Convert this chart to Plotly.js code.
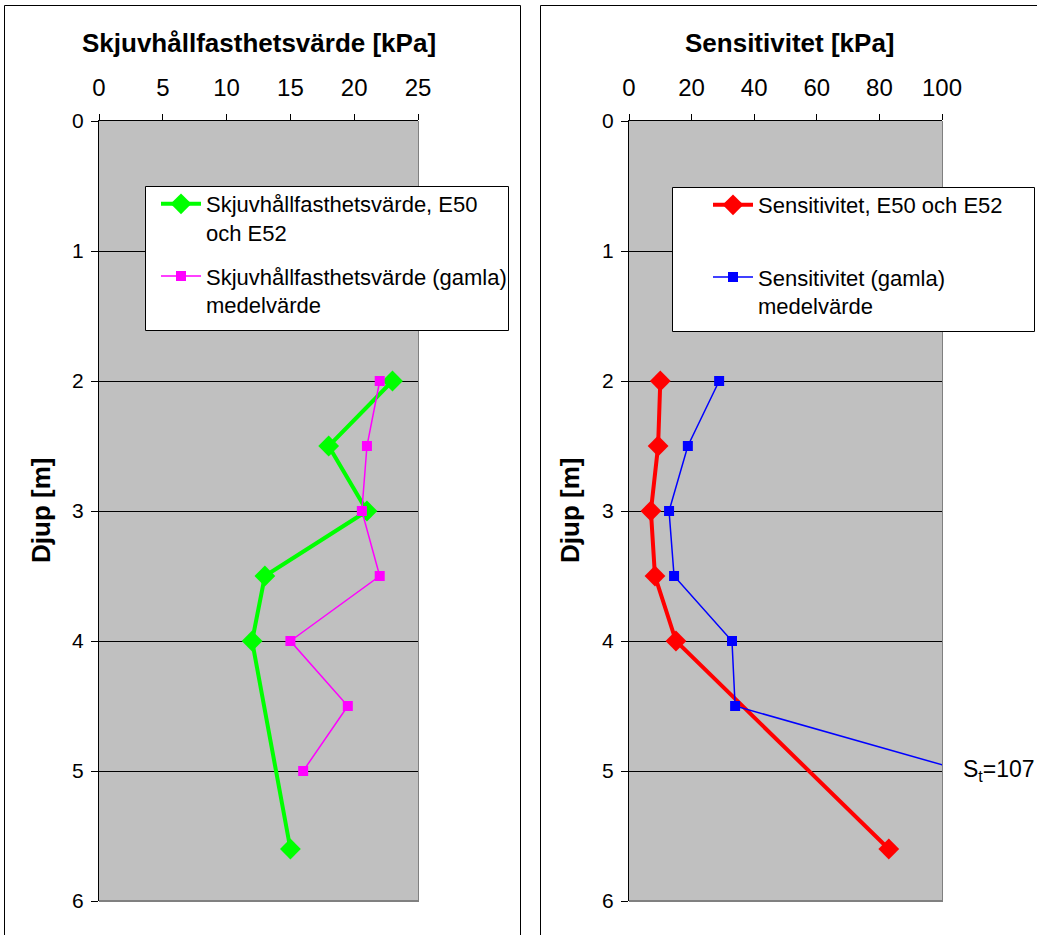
<!DOCTYPE html>
<html>
<head>
<meta charset="utf-8">
<script src="https://cdn.plot.ly/plotly-3.0.1.min.js"></script>
<style>html,body{margin:0;padding:0;background:#fff;}#chart{width:1037px;height:935px;}</style>
</head>
<body>
<div id="chart"></div>
<script>
// Depth values [m]
const depthNew = [2, 2.5, 3, 3.5, 4, 5.6];
const depthOld = [2, 2.5, 3, 3.5, 4, 4.5, 5];
// Skjuvhållfasthetsvärde [kPa]
const shearNew = [23, 18, 21, 13, 12, 15];
const shearOld = [22, 21, 20.6, 22, 15, 19.5, 16];
// Sensitivitet
const sensNew = [10, 9.3, 7, 8.3, 15, 83];
const sensOld = [28.8, 18.8, 12.8, 14.4, 32.9, 33.9, 107];

const leftTicks = [0, 5, 10, 15, 20, 25];
const rightTicks = [0, 20, 40, 60, 80, 100];
const depthTicks = [0, 1, 2, 3, 4, 5, 6];

const W = 1037, H = 935;
const px = x => x / W;
const py = y => 1 - y / H;
const FONT = 'Liberation Sans, Arial, sans-serif';

const traces = [
  {x: shearNew, y: depthNew, xaxis: 'x', yaxis: 'y', mode: 'lines+markers',
   name: 'Skjuvhållfasthetsvärde, E50<br>och E52', legend: 'legend', legendgroup: 'a',
   line: {color: '#00FF00', width: 4}, marker: {symbol: 'diamond', size: 16, color: '#00FF00'}},
  {x: shearOld, y: depthOld, xaxis: 'x', yaxis: 'y', mode: 'lines+markers',
   name: 'Skjuvhållfasthetsvärde (gamla)<br>medelvärde', legend: 'legend', legendgroup: 'b',
   line: {color: '#FF00FF', width: 1.5}, marker: {symbol: 'square', size: 10, color: '#FF00FF'}},
  {x: sensNew, y: depthNew, xaxis: 'x2', yaxis: 'y2', mode: 'lines+markers',
   name: 'Sensitivitet, E50 och E52<br> ', legend: 'legend2', legendgroup: 'c',
   line: {color: '#FF0000', width: 4}, marker: {symbol: 'diamond', size: 16, color: '#FF0000'}},
  {x: sensOld, y: depthOld, xaxis: 'x2', yaxis: 'y2', mode: 'lines+markers',
   name: 'Sensitivitet (gamla)<br>medelvärde', legend: 'legend2', legendgroup: 'd',
   line: {color: '#0000FF', width: 1.5}, marker: {symbol: 'square', size: 10, color: '#0000FF'}}
];

function xax(domain, range, ticks, anchor) {
  return {domain: domain, range: range, tickvals: ticks, side: 'top', anchor: anchor,
    ticks: 'outside', ticklen: 6, tickcolor: '#000', showline: true, linecolor: '#000', linewidth: 1,
    showgrid: false, zeroline: false, tickfont: {family: FONT, size: 24, color: '#000'},
    ticklabelstandoff: 8, fixedrange: true};
}
function yax(domain, anchor) {
  return {domain: domain, range: [6, 0], tickvals: depthTicks, anchor: anchor,
    ticks: 'outside', ticklen: 7, tickcolor: '#000', showline: true, linecolor: '#000', linewidth: 1,
    showgrid: true, gridcolor: '#000', gridwidth: 1, zeroline: false,
    tickfont: {family: FONT, size: 21, color: '#000'}, ticklabelstandoff: 3, fixedrange: true};
}

const yDom = [py(901), py(121)];
const legendBase = {xanchor: 'left', yanchor: 'top', bgcolor: 'rgba(0,0,0,0)',
  borderwidth: 0, font: {family: FONT, size: 22, color: '#000'},
  valign: 'top', tracegroupgap: 12, itemwidth: 40};
const layout = {
  width: W, height: H, margin: {l: 0, r: 0, t: 0, b: 0},
  paper_bgcolor: '#fff', plot_bgcolor: '#C0C0C0',
  xaxis: xax([px(99), px(418)], [0, 25], leftTicks, 'y'),
  yaxis: yax(yDom, 'x'),
  xaxis2: xax([px(629), px(942)], [0, 100], rightTicks, 'y2'),
  yaxis2: yax(yDom, 'x2'),
  showlegend: true,
  legend: Object.assign({}, legendBase, {x: px(156), y: py(183)}),
  legend2: Object.assign({}, legendBase, {x: px(708), y: py(184)}),
  annotations: [
    {text: '<b>Skjuvhållfasthetsvärde [kPa]</b>', xref: 'paper', yref: 'paper', x: px(259), y: py(43),
     xanchor: 'center', yanchor: 'middle', showarrow: false, font: {family: FONT, size: 26, color: '#000'}},
    {text: '<b>Sensitivitet [kPa]</b>', xref: 'paper', yref: 'paper', x: px(790), y: py(43),
     xanchor: 'center', yanchor: 'middle', showarrow: false, font: {family: FONT, size: 26, color: '#000'}},
    {text: '<b>Djup [m]</b>', xref: 'paper', yref: 'paper', x: px(41), y: py(511), textangle: -90,
     xanchor: 'center', yanchor: 'middle', showarrow: false, font: {family: FONT, size: 26, color: '#000'}},
    {text: '<b>Djup [m]</b>', xref: 'paper', yref: 'paper', x: px(570), y: py(511), textangle: -90,
     xanchor: 'center', yanchor: 'middle', showarrow: false, font: {family: FONT, size: 26, color: '#000'}},
    {text: 'S<sub>t</sub>=107', xref: 'paper', yref: 'paper', x: px(961), y: py(770),
     xanchor: 'left', yanchor: 'middle', showarrow: false, font: {family: FONT, size: 23, color: '#000'}}
  ],
  shapes: [
    // chart frames
    {type: 'rect', xref: 'paper', yref: 'paper', x0: px(4.5), x1: px(520.5), y0: py(945), y1: py(5.5),
     line: {color: '#000', width: 1}, fillcolor: 'rgba(0,0,0,0)', layer: 'below'},
    {type: 'rect', xref: 'paper', yref: 'paper', x0: px(540.5), x1: px(1047), y0: py(945), y1: py(5.5),
     line: {color: '#000', width: 1}, fillcolor: 'rgba(0,0,0,0)', layer: 'below'},
    // gray right/bottom plot borders
    {type: 'line', xref: 'paper', yref: 'paper', x0: px(99), x1: px(419), y0: py(901), y1: py(901),
     line: {color: '#808080', width: 2}},
    {type: 'line', xref: 'paper', yref: 'paper', x0: px(418.5), x1: px(418.5), y0: py(901), y1: py(121),
     line: {color: '#808080', width: 1}},
    {type: 'line', xref: 'paper', yref: 'paper', x0: px(629), x1: px(943), y0: py(901), y1: py(901),
     line: {color: '#808080', width: 2}},
    {type: 'line', xref: 'paper', yref: 'paper', x0: px(942.5), x1: px(942.5), y0: py(901), y1: py(121),
     line: {color: '#808080', width: 1}},
    // legend boxes
    {type: 'rect', xref: 'paper', yref: 'paper', x0: px(145.5), x1: px(508.5), y0: py(330.5), y1: py(186.5),
     line: {color: '#000', width: 1}, fillcolor: '#fff', layer: 'above'},
    {type: 'rect', xref: 'paper', yref: 'paper', x0: px(672.5), x1: px(1034.5), y0: py(331.5), y1: py(187.5),
     line: {color: '#000', width: 1}, fillcolor: '#fff', layer: 'above'}
  ]
};

Plotly.newPlot('chart', traces, layout, {displayModeBar: false, staticPlot: true});
</script>
</body>
</html>
